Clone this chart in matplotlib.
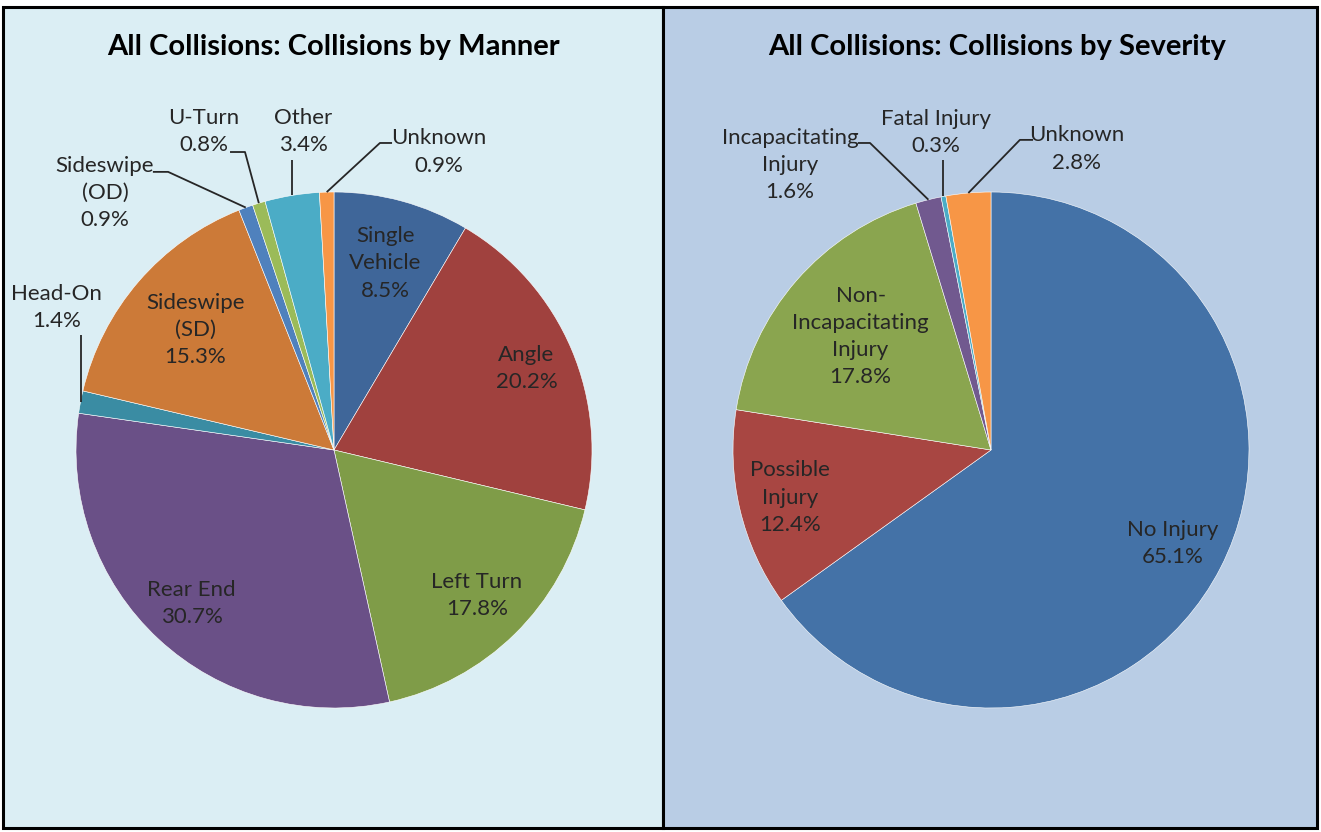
import numpy as np
import matplotlib
matplotlib.use("Agg")
import matplotlib.pyplot as plt
from matplotlib.patches import Rectangle

plt.rcParams.update({"font.family": ["Lato", "DejaVu Sans"], "font.size": 16})

# data
manner_labels = ["Single\nVehicle", "Angle", "Left Turn", "Rear End", "Head-On",
                 "Sideswipe\n(SD)", "Sideswipe\n(OD)", "U-Turn", "Other", "Unknown"]
manner_pct = [8.5, 20.2, 17.8, 30.7, 1.4, 15.3, 0.9, 0.8, 3.4, 0.9]
manner_colors = ["#3F6699", "#A0413E", "#7F9C48", "#6A5087", "#3A8CA3",
                 "#CC7A38", "#4F81BD", "#9BBB59", "#4BACC6", "#F79646"]

sev_labels = ["No Injury", "Possible\nInjury", "Non-\nIncapacitating\nInjury",
              "Incapacitating\nInjury", "Fatal Injury", "Unknown"]
sev_pct = [65.1, 12.4, 17.8, 1.6, 0.3, 2.8]
sev_colors = ["#4472A7", "#A84642", "#8AA54F", "#71598F", "#4BACC6", "#F79646"]

# label placement (units of pie radius): inside labels -> radius factor;
# outside labels -> text centre, leader elbow, leader end
manner_inside = {0: 0.75, 1: 0.81, 2: 0.79, 3: 0.81, 5: 0.71}
manner_outside = {
    4: ((-1.074, 0.552), (-0.984, 0.446), None),
    6: ((-0.888, 0.996), (-0.643, 1.078), (-0.702, 1.078)),
    7: ((-0.504, 1.233), (-0.345, 1.155), (-0.403, 1.155)),
    8: ((-0.12, 1.233), (-0.168, 1.124), None),
    9: ((0.407, 1.155), (0.178, 1.19), (0.225, 1.19)),
}
sev_inside = {0: 0.79, 1: 0.80, 2: 0.67}
sev_outside = {
    3: ((-0.779, 1.105), (-0.469, 1.19), (-0.516, 1.19)),
    4: ((-0.213, 1.231), (-0.184, 1.124), None),
    5: ((0.333, 1.167), (0.112, 1.202), (0.163, 1.202)),
}

W, H = 1321, 832
R = 258  # pie radius in px
TXT = "#262626"


def draw_pie(fig, cx, cy, title, tx, labels, pct, colors, inside, outside):
    half = 1.45 * R
    ax = fig.add_axes([(cx - half) / W, (H - cy - half) / H, 2 * half / W, 2 * half / H])
    ax.pie(pct, colors=colors, startangle=90, counterclock=False, radius=1,
           wedgeprops=dict(edgecolor="white", linewidth=0.4))
    ax.set_xlim(-1.45, 1.45); ax.set_ylim(-1.45, 1.45); ax.set_aspect("equal")
    ax.axis("off")
    total = sum(pct)
    start = 0.0
    for i, (lab, p) in enumerate(zip(labels, pct)):
        mid = np.deg2rad((start + p / 2) / total * 360)
        start += p
        s = f"{lab}\n{p:.1f}%"
        if i in inside:
            r = inside[i]
            ax.text(r * np.sin(mid), r * np.cos(mid), s, ha="center", va="center",
                    color=TXT, linespacing=1.45)
        else:
            (lx, ly), (ex, ey) = outside[i][0], outside[i][1]
            hx, hy = outside[i][2] or (ex, ey)
            px, py = np.sin(mid), np.cos(mid)
            if outside[i][2] is None:
                ex = px  # straight vertical leader
            ax.plot([px, ex, hx if outside[i][2] else ex], [py, ey, hy], color=TXT, lw=1.3,
                    clip_on=False, solid_capstyle="butt")
            ax.text(lx, ly, s, ha="center", va="center", color=TXT, linespacing=1.45)
    fig.text(tx / W, 1 - 47 / H, title, ha="center", va="center", fontsize=21,
             fontweight="bold", color="black")


fig = plt.figure(figsize=(W / 100, H / 100), dpi=100)
fig.patches.append(Rectangle((0, 0), 1, 1, transform=fig.transFigure, color="white", zorder=-3))
fig.patches.append(Rectangle((3 / W, 4 / H), 660 / W, 821 / H, transform=fig.transFigure,
                             facecolor="#DBEEF4", edgecolor="black", lw=2.2, zorder=-2))
fig.patches.append(Rectangle((663 / W, 4 / H), 654 / W, 821 / H, transform=fig.transFigure,
                             facecolor="#B9CDE5", edgecolor="black", lw=2.2, zorder=-2))

draw_pie(fig, 334, 450, "All Collisions: Collisions by Manner", 333,
         manner_labels, manner_pct, manner_colors, manner_inside, manner_outside)
draw_pie(fig, 991, 450, "All Collisions: Collisions by Severity", 997,
         sev_labels, sev_pct, sev_colors, sev_inside, sev_outside)

fig.savefig("out.png", dpi=100)
